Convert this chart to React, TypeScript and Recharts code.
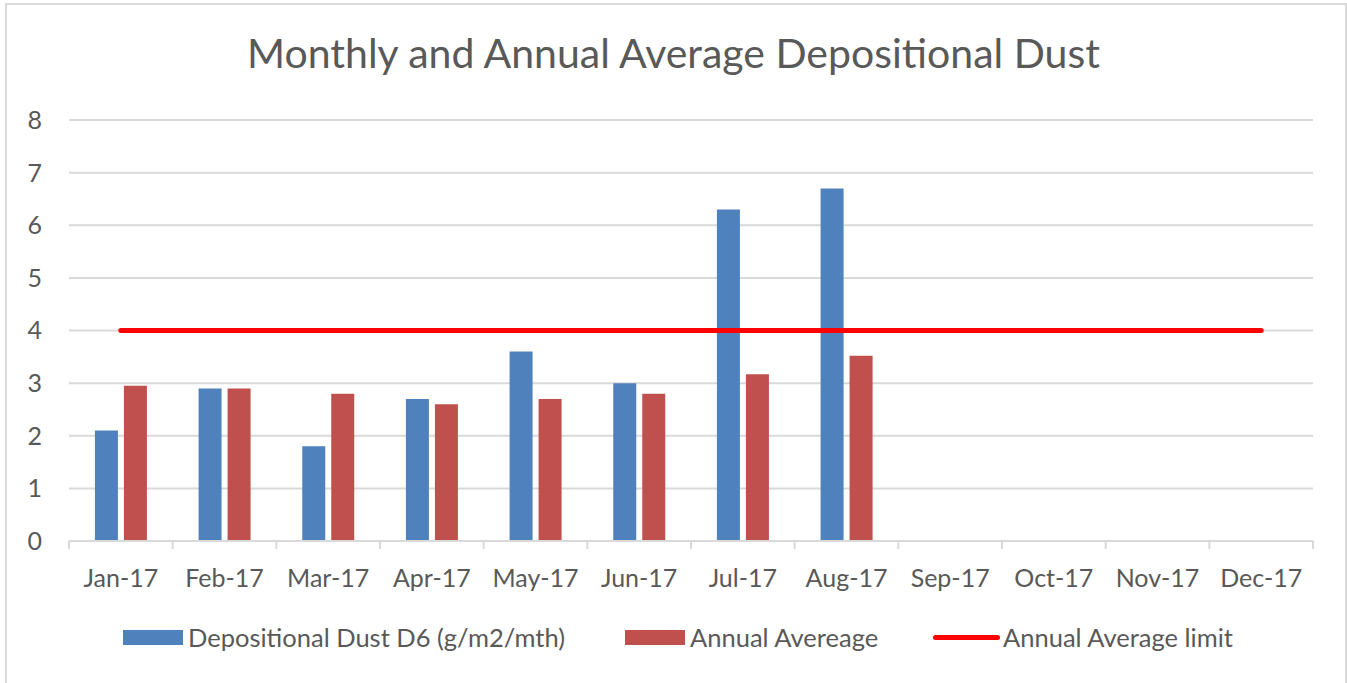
import { ComposedChart, Bar, Line, XAxis, YAxis, CartesianGrid, Legend } from 'recharts';

const months = ['Jan-17', 'Feb-17', 'Mar-17', 'Apr-17', 'May-17', 'Jun-17', 'Jul-17', 'Aug-17', 'Sep-17', 'Oct-17', 'Nov-17', 'Dec-17'];
const dustD6 = [2.1, 2.9, 1.8, 2.7, 3.6, 3.0, 6.3, 6.7, null, null, null, null];
const annualAvg = [2.95, 2.9, 2.8, 2.6, 2.7, 2.8, 3.17, 3.52, null, null, null, null];
const avgLimit = [4, 4, 4, 4, 4, 4, 4, 4, 4, 4, 4, 4];
const yTicks = [0, 1, 2, 3, 4, 5, 6, 7, 8];

const W = 1347;
const H = 683;
const LEFT = 69;
const RIGHT = 34;
const BAND = (W - LEFT - RIGHT) / months.length;

const FONT = 'Lato, "Open Sans", sans-serif';
const TEXT = '#595959';
const GRID = '#d9d9d9';
const BLUE = '#4f81bd';
const RED = '#c0504d';
const LIMIT = '#ff0000';

const data = months.map((m, i) => ({
  month: m,
  dust: dustD6[i],
  avg: annualAvg[i],
  limit: avgLimit[i],
}));

function MonthTick(props: any) {
  const { x, y, payload, index } = props;
  return (
    <g>
      <line x1={x - BAND / 2} x2={x - BAND / 2} y1={y} y2={y + 8} stroke={GRID} strokeWidth={2} />
      {index === months.length - 1 && (
        <line x1={x + BAND / 2} x2={x + BAND / 2} y1={y} y2={y + 8} stroke={GRID} strokeWidth={2} />
      )}
      <text x={x} y={y + 46} textAnchor="middle" fill={TEXT} fontSize={25} fontFamily={FONT}>
        {payload.value}
      </text>
    </g>
  );
}

function LegendBox() {
  const item = { display: 'flex', alignItems: 'center' } as const;
  const label = { fontSize: 25.5, color: TEXT, fontFamily: FONT, marginLeft: 5 };
  return (
    <div style={{ position: 'relative', height: 40 }}>
      <div style={{ ...item, position: 'absolute', left: 123 }}>
        <div style={{ width: 60, height: 15, background: BLUE }} />
        <span style={label}>Depositional Dust D6 (g/m2/mth)</span>
      </div>
      <div style={{ ...item, position: 'absolute', left: 625 }}>
        <div style={{ width: 60, height: 15, background: RED }} />
        <span style={label}>Annual Avereage</span>
      </div>
      <div style={{ ...item, position: 'absolute', left: 933 }}>
        <div style={{ width: 67, height: 5, borderRadius: 3, background: LIMIT }} />
        <span style={{ ...label, marginLeft: 3 }}>Annual Average limit</span>
      </div>
    </div>
  );
}

export default function App() {
  return (
    <div style={{ position: 'relative', width: W, height: H, overflow: 'hidden', background: '#fff' }}>
      <style>{'body{margin:0}'}</style>
      <div style={{ position: 'absolute', left: 5, top: 3, width: 1338, height: 720, border: `2px solid ${GRID}` }} />
      <div style={{ position: 'absolute', top: 28, width: '100%', textAlign: 'center', fontFamily: FONT, fontSize: 41, color: TEXT }}>
        Monthly and Annual Average Depositional Dust
      </div>
      <ComposedChart
        width={W}
        height={H}
        data={data}
        margin={{ top: 120, right: RIGHT, bottom: 0, left: 0 }}
        barCategoryGap="25%"
        barGap={6}
      >
        <CartesianGrid vertical={false} stroke={GRID} strokeWidth={2} />
        <XAxis
          dataKey="month"
          height={142}
          axisLine={{ stroke: GRID, strokeWidth: 2 }}
          tickLine={false}
          tickSize={0}
          tickMargin={0}
          interval={0}
          tick={<MonthTick />}
        />
        <YAxis
          width={LEFT}
          domain={[0, 8]}
          ticks={yTicks}
          axisLine={false}
          tickLine={false}
          tickMargin={21}
          tick={{ fill: TEXT, fontSize: 25, fontFamily: FONT }}
        />
        <Legend
          layout="horizontal"
          verticalAlign="middle"
          align="center"
          wrapperStyle={{ top: 622, left: 0, width: W }}
          content={<LegendBox />}
        />
        <Bar dataKey="dust" name="Depositional Dust D6 (g/m2/mth)" fill={BLUE} isAnimationActive={false} />
        <Bar dataKey="avg" name="Annual Avereage" fill={RED} isAnimationActive={false} />
        <Line
          dataKey="limit"
          name="Annual Average limit"
          stroke={LIMIT}
          strokeWidth={5}
          strokeLinecap="round"
          dot={false}
          isAnimationActive={false}
        />
      </ComposedChart>
    </div>
  );
}
